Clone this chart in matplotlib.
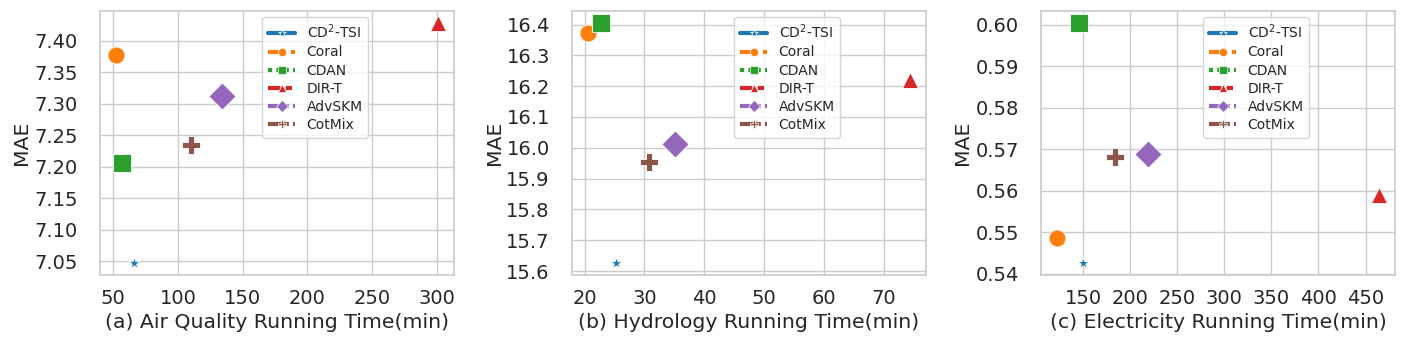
import numpy as np
import matplotlib
matplotlib.use("Agg")
import matplotlib.pyplot as plt
from matplotlib.lines import Line2D
from matplotlib.ticker import FormatStrFormatter
import seaborn as sns

# methods and their style
methods = ["CD$^2$-TSI", "Coral", "CDAN", "DIR-T", "AdvSKM", "CotMix"]
colors = ["#1f77b4", "#ff7f0e", "#2ca02c", "#d62728", "#9467bd", "#8c564b"]
markers = ["*", "o", "s", "^", "D", "P"]
sizes = [75, 150, 160, 130, 190, 150]
dashes = [(None, None), (4, 1.5), (1, 1), (3, 1.25, 1.5, 1.25), (5, 1, 1, 1), (5, 1, 2, 1, 2, 1)]

# running time (min) and MAE per dataset
air_time = [65.9, 52.3, 56.6, 300.8, 134.3, 109.9]
air_mae = [7.047, 7.377, 7.205, 7.428, 7.312, 7.234]

hydro_time = [25.2, 20.6, 22.7, 74.4, 35.2, 30.7]
hydro_mae = [15.626, 16.371, 16.405, 16.221, 16.011, 15.955]

elec_time = [149.6, 122.4, 145.4, 464.2, 218.6, 183.9]
elec_mae = [0.5426, 0.5486, 0.6004, 0.5589, 0.5688, 0.5682]

xlabels = ["(a) Air Quality Running Time(min)",
           "(b) Hydrology Running Time(min)",
           "(c) Electricity Running Time(min)"]

sns.set_theme(style="whitegrid")
plt.rcParams['font.family'] = ['DejaVu Sans']

fig = plt.figure(figsize=(14.12, 3.45), dpi=100)
lefts = [100, 572, 1041]
axes = [fig.add_axes([l / 1412, (345 - 275) / 345, 354 / 1412, 264 / 345]) for l in lefts]

data = [(air_time, air_mae), (hydro_time, hydro_mae), (elec_time, elec_mae)]
for ax, (xs, ys), xl in zip(axes, data, xlabels):
    for i in range(len(methods)):
        ax.scatter(xs[i], ys[i], s=sizes[i], c=colors[i], marker=markers[i],
                   edgecolors="white", linewidths=0.6, zorder=3)
    ax.set_xlabel(xl, fontsize=14.7, labelpad=4)
    ax.set_ylabel("MAE", fontsize=14.7, labelpad=2)
    ax.tick_params(axis="x", labelsize=14, pad=4)
    ax.tick_params(axis="y", labelsize=14, pad=10)

    handles = []
    for i in range(len(methods)):
        h = Line2D([], [], color=colors[i], lw=3, marker=markers[i], markersize=6,
                   markeredgecolor="white", markeredgewidth=0.5)
        if dashes[i][0] is not None:
            h.set_dashes(dashes[i])
        handles.append(h)
    ax.legend(handles, methods, loc="upper left", bbox_to_anchor=(0.458, 0.977),
              borderaxespad=0, fontsize=10, handlelength=2.0, labelspacing=0.3,
              borderpad=0.4)

axes[0].set_xticks(np.arange(50, 301, 50))
axes[0].set_yticks(np.arange(7.05, 7.401, 0.05))
axes[0].yaxis.set_major_formatter(FormatStrFormatter('%.2f'))
axes[1].set_xticks(np.arange(20, 71, 10))
axes[1].set_yticks(np.arange(15.6, 16.401, 0.1))
axes[1].yaxis.set_major_formatter(FormatStrFormatter('%.1f'))
axes[2].set_xticks(np.arange(150, 451, 50))
axes[2].set_yticks(np.arange(0.54, 0.6001, 0.01))
axes[2].yaxis.set_major_formatter(FormatStrFormatter('%.2f'))

fig.savefig("out.png", dpi=100)
